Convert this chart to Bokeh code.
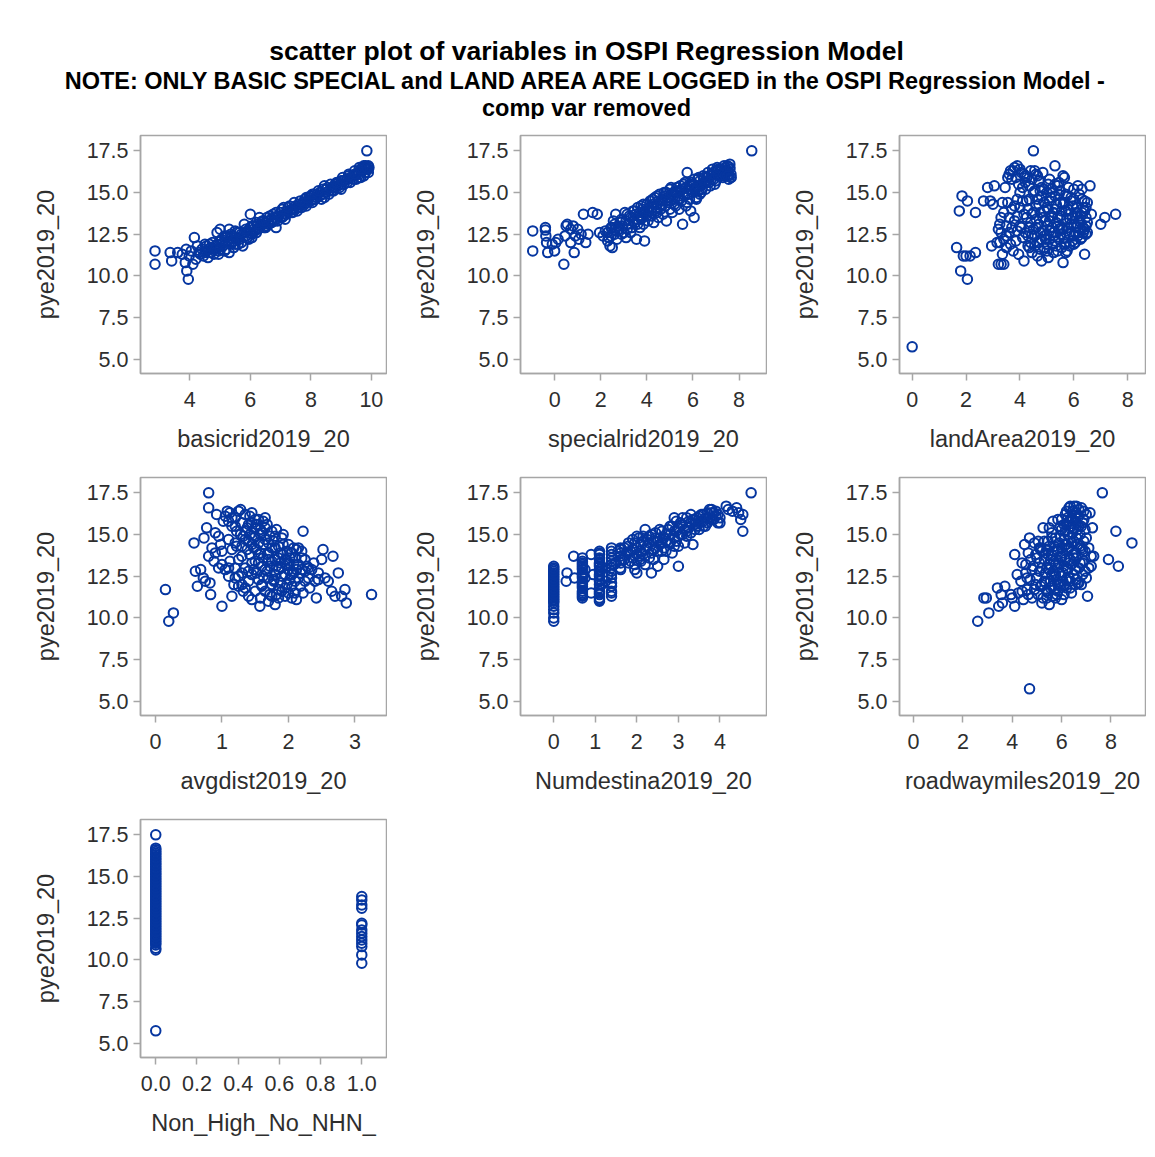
from bokeh.plotting import figure
from bokeh.layouts import column, row
from bokeh.models import Range1d, FixedTicker, NumeralTickFormatter
from bokeh.core.properties import value
from bokeh.embed import file_html
from bokeh.resources import INLINE

# ---------------- data ----------------
y_label = "pye2019_20"
y_ticks = [5.0, 7.5, 10.0, 12.5, 15.0, 17.5]

basic_x = [2.85, 2.85, 3.35, 3.4, 3.6, 3.75, 3.85, 3.88, 3.9, 3.95, 3.98, 4.05, 4.1, 4.15, 4.2, 4.25, 4.3, 4.4, 4.45, 4.5,
           4.55, 4.6, 4.7, 4.75, 4.8, 4.85, 4.9, 4.95, 5.0, 5.05, 5.1, 5.15, 5.2, 5.25, 5.3, 5.3, 5.35, 5.4, 5.45, 5.5,
           5.55, 5.6, 5.65, 5.7, 5.75, 5.8, 5.85, 5.9, 5.95, 6.0, 6.0, 6.05, 6.1, 6.15, 6.2, 6.25, 6.3, 6.35, 6.4, 6.45,
           6.5, 6.55, 6.6, 6.7, 6.75, 6.8, 6.85, 6.9, 7.0, 7.05, 7.1, 7.15, 7.2, 7.3, 7.35, 7.4, 7.5, 7.55, 7.6, 7.7,
           7.75, 7.8, 7.85, 7.9, 8.0, 8.05, 8.1, 8.15, 8.2, 8.3, 8.35, 8.4, 8.5, 8.55, 8.6, 8.7, 8.75, 8.8, 8.9, 9.0,
           9.0, 9.05, 9.1, 9.2, 9.25, 9.3, 9.4, 9.45, 9.5, 9.55, 9.6, 9.65, 9.7, 9.75, 9.8, 9.85, 9.85, 9.9, 9.9, 9.92]
basic_y = [11.5, 10.7, 11.4, 10.9, 11.4, 11.3, 10.8, 11.6, 10.3, 9.8, 11.2, 11.5, 10.7, 12.3, 11.0, 11.8, 11.4, 11.6, 11.2, 11.9,
           11.5, 11.1, 11.7, 12.0, 11.3, 11.8, 12.6, 11.5, 12.8, 12.2, 11.8, 12.4, 11.6, 12.1, 12.8, 11.4, 12.5, 12.0, 11.7, 12.3,
           12.6, 11.9, 12.2, 12.5, 11.8, 13.1, 12.4, 12.7, 12.2, 13.7, 12.9, 12.5, 13.0, 12.7, 13.2, 12.8, 13.5, 13.0, 13.3, 12.9,
           13.2, 13.5, 13.1, 13.4, 13.7, 13.3, 12.9, 13.6, 13.8, 13.5, 14.1, 13.7, 13.9, 14.2, 13.8, 14.0, 14.2, 13.9, 14.3, 14.1,
           14.4, 14.6, 14.2, 14.5, 14.8, 14.4, 14.9, 14.6, 14.7, 15.0, 14.6, 15.2, 15.0, 15.3, 14.9, 15.3, 15.1, 15.5, 15.4, 15.7,
           15.2, 15.9, 15.5, 15.8, 16.1, 15.6, 16.0, 16.3, 15.8, 16.2, 16.5, 15.9, 16.3, 16.0, 16.6, 17.5, 16.4, 16.2, 16.6, 16.5]
basic_more = [(4.35, 11.3), (4.5, 11.4), (4.6, 11.6), (4.65, 11.9), (4.7, 11.4), (4.8, 11.6), (4.9, 11.9), (5.0, 11.6),
              (5.0, 12.1), (5.1, 12.0), (5.15, 11.5), (5.2, 12.3), (5.3, 12.0), (5.4, 12.4), (5.5, 11.9), (5.5, 12.7),
              (5.6, 12.3), (5.7, 12.0), (5.8, 12.6), (5.9, 12.3), (6.0, 12.6), (6.1, 12.8), (6.2, 12.6), (6.3, 12.9),
              (6.4, 13.1), (6.5, 12.9), (6.6, 13.3), (6.7, 13.2), (6.8, 13.5), (6.9, 13.3), (7.0, 13.5), (7.1, 13.6),
              (7.2, 13.7), (7.3, 13.9), (7.4, 13.8), (7.5, 14.0), (7.6, 14.1), (7.7, 14.3), (7.8, 14.3), (7.9, 14.4),
              (8.0, 14.5), (8.1, 14.6), (8.2, 14.9), (8.3, 14.8), (8.4, 14.9), (8.5, 15.2), (8.6, 15.1), (8.7, 15.1),
              (8.8, 15.3), (8.9, 15.6), (9.0, 15.5), (9.1, 15.7), (9.2, 15.6), (9.3, 15.9), (9.4, 15.8), (9.5, 16.1),
              (9.6, 16.1), (9.7, 16.5), (9.8, 16.2), (9.9, 16.4), (9.75, 16.6), (9.6, 15.9), (7.15, 13.4), (6.05, 12.3),
              (5.55, 12.2), (4.95, 11.3), (6.55, 13.0), (7.95, 14.7), (8.45, 14.7), (8.95, 15.3),
              (4.55, 11.8), (4.85, 11.6), (5.05, 11.9), (5.25, 12.4), (5.45, 12.1), (5.65, 12.6), (5.85, 12.8),
              (6.05, 13.0), (6.25, 13.1), (6.45, 13.3), (6.65, 13.6), (6.85, 13.8), (7.05, 14.0), (7.25, 14.1),
              (7.45, 14.4), (7.65, 14.5), (7.85, 14.7), (8.05, 14.9), (8.25, 15.1), (8.45, 15.4), (8.65, 15.5),
              (8.85, 15.6), (9.05, 15.7), (9.25, 16.0), (9.45, 16.1), (9.65, 16.4), (9.85, 16.5)]

special_x = [-0.95, -0.95, -0.4, -0.4, -0.38, -0.35, -0.3, -0.1, 0.0, 0.05, 0.15, 0.4, 0.45, 0.5, 0.55, 0.7, 0.7, 0.8, 0.85, 0.9,
             1.0, 1.05, 1.15, 1.25, 1.35, 1.45, 1.65, 1.85, 1.95, 2.1, 2.2, 2.3, 2.4, 2.45, 2.5, 2.55, 2.6, 2.65, 2.7, 2.75,
             2.8, 2.9, 3.0, 3.05, 3.1, 3.2, 3.3, 3.35, 3.45, 3.5, 3.55, 3.6, 3.65, 3.7, 3.75, 3.8, 3.85, 3.9, 3.95, 4.0,
             4.05, 4.1, 4.15, 4.2, 4.25, 4.3, 4.35, 4.4, 4.45, 4.5, 4.55, 4.6, 4.65, 4.7, 4.75, 4.8, 4.85, 4.9, 5.0, 5.0,
             5.05, 5.1, 5.15, 5.2, 5.3, 5.35, 5.4, 5.45, 5.5, 5.55, 5.6, 5.65, 5.7, 5.75, 5.8, 5.85, 5.9, 5.95, 6.0, 6.05,
             6.1, 6.15, 6.2, 6.25, 6.3, 6.4, 6.5, 6.55, 6.6, 6.7, 6.75, 6.8, 6.9, 7.0, 7.05, 7.1, 7.2, 7.25, 7.3, 7.4,
             7.45, 7.5, 7.55, 7.6, 7.65, 8.55]
special_y = [12.7, 11.5, 12.9, 12.75, 12.4, 12.0, 11.4, 11.9, 11.5, 12.0, 12.2, 10.7, 12.4, 13.0, 13.1, 12.8, 12.0, 13.0, 11.4, 12.4,
             12.8, 12.2, 12.5, 13.7, 12.0, 12.5, 13.8, 13.7, 12.6, 12.4, 12.7, 12.1, 11.8, 12.9, 11.7, 13.3, 12.5, 13.7, 12.2, 13.0,
             12.8, 13.4, 12.6, 13.8, 12.3, 13.1, 13.5, 12.9, 13.9, 13.2, 12.2, 14.1, 13.6, 12.9, 13.4, 14.0, 13.1, 12.1, 13.7, 14.3,
             13.3, 13.9, 14.5, 13.6, 14.1, 13.2, 14.7, 13.9, 14.3, 13.5, 14.9, 14.0, 14.5, 13.7, 15.0, 14.2, 13.3, 14.7, 15.2, 14.0,
             14.5, 13.8, 15.0, 14.3, 15.3, 14.6, 14.0, 15.1, 14.5, 13.1, 15.5, 14.8, 14.2, 16.2, 15.2, 14.6, 13.9, 15.6, 15.0, 13.5,
             15.3, 14.7, 15.8, 15.1, 14.9, 15.5, 15.9, 15.2, 15.6, 16.0, 15.4, 15.8, 16.2, 15.7, 16.1, 16.4, 16.0, 16.3, 15.9, 16.5,
             16.2, 16.6, 16.0, 16.4, 15.9, 17.5]
special_more = [(2.3, 12.6), (2.5, 12.9), (2.6, 13.1), (2.7, 12.7), (2.85, 13.2), (2.95, 13.0), (3.1, 13.3), (3.15, 12.8),
                (3.25, 13.6), (3.4, 13.3), (3.5, 13.7), (3.6, 13.1), (3.7, 13.8), (3.8, 13.5), (3.9, 13.9), (4.0, 13.6),
                (4.1, 14.1), (4.2, 13.9), (4.3, 14.3), (4.4, 14.1), (4.5, 14.5), (4.6, 14.3), (4.7, 14.6), (4.8, 14.8),
                (4.9, 14.4), (5.0, 14.7), (5.1, 14.9), (5.2, 14.6), (5.3, 15.0), (5.4, 14.8), (5.5, 15.2), (5.6, 14.9),
                (5.7, 15.3), (5.8, 14.9), (5.9, 15.4), (6.0, 15.5), (6.1, 15.1), (6.2, 15.4), (6.3, 15.7), (6.4, 15.2),
                (6.5, 15.6), (6.6, 15.9), (6.7, 15.6), (6.8, 16.1), (6.9, 15.8), (7.0, 16.3), (7.1, 16.0), (7.2, 16.4),
                (7.3, 16.2), (7.4, 16.0), (7.5, 16.3), (7.6, 16.7), (7.65, 16.1), (7.55, 15.8), (3.3, 12.6), (4.45, 13.8),
                (5.25, 14.2), (6.15, 14.6), (2.35, 12.3), (3.75, 14.2),
                (2.45, 12.4), (2.65, 12.9), (2.9, 12.5), (3.15, 13.7), (3.4, 13.9), (3.6, 13.4), (3.85, 14.3), (4.05, 14.0),
                (4.25, 14.6), (4.45, 14.8), (4.65, 14.2), (4.85, 15.0), (5.05, 15.3), (5.25, 15.1), (5.45, 15.4),
                (5.65, 15.6), (5.85, 15.5), (6.05, 15.8), (6.25, 15.9), (6.45, 16.0), (6.65, 16.2), (6.85, 16.4),
                (7.05, 16.5), (7.35, 16.6), (7.6, 16.5), (7.65, 15.9), (7.5, 16.0), (6.95, 15.5), (6.35, 15.0), (5.75, 14.4)]

land_x = [0.0, 1.65, 1.75, 1.8, 1.85, 1.9, 2.0, 2.05, 2.05, 2.15, 2.35, 2.35, 2.65, 2.8, 2.9, 2.95, 3.0, 3.05, 3.15, 3.2,
          3.2, 3.25, 3.3, 3.35, 3.35, 3.4, 3.4, 3.45, 3.5, 3.5, 3.55, 3.6, 3.65, 3.7, 3.75, 3.8, 3.8, 3.85, 3.9, 3.9,
          3.95, 4.0, 4.0, 4.05, 4.1, 4.15, 4.15, 4.2, 4.25, 4.3, 4.35, 4.35, 4.4, 4.45, 4.5, 4.5, 4.55, 4.55, 4.6, 4.6,
          4.65, 4.7, 4.7, 4.75, 4.8, 4.8, 4.85, 4.9, 4.9, 4.95, 5.0, 5.0, 5.05, 5.05, 5.1, 5.1, 5.15, 5.2, 5.2, 5.25,
          5.3, 5.3, 5.35, 5.4, 5.4, 5.45, 5.5, 5.5, 5.55, 5.6, 5.6, 5.65, 5.65, 5.7, 5.75, 5.75, 5.8, 5.85, 5.9, 5.95,
          6.0, 6.0, 6.05, 6.1, 6.15, 6.2, 6.25, 6.3, 6.3, 6.35, 6.4, 6.4, 6.45, 6.5, 6.6, 6.65, 7.0, 7.15, 7.55]
land_y = [5.75, 11.7, 13.9, 10.3, 14.8, 11.2, 11.2, 14.5, 9.8, 11.2, 11.4, 13.8, 14.5, 15.3, 14.5, 11.8, 14.3, 15.4, 12.0, 12.8,
          10.7, 13.1, 10.7, 11.3, 14.4, 10.7, 12.2, 15.3, 13.0, 11.7, 15.9, 12.6, 16.3, 14.0, 11.5, 16.5, 13.3, 12.1, 16.6, 14.6,
          11.3, 15.0, 13.0, 16.2, 12.3, 13.7, 10.9, 16.0, 14.5, 11.8, 15.4, 12.9, 16.3, 11.4, 17.5, 13.8, 15.1, 12.4, 16.1, 14.2,
          11.2, 13.1, 15.7, 12.6, 14.8, 10.9, 13.5, 11.7, 15.2, 12.2, 14.1, 13.0, 11.1, 15.5, 12.7, 14.5, 13.6, 11.9, 15.0, 12.4,
          16.6, 14.0, 13.2, 11.5, 15.4, 12.8, 14.4, 13.6, 11.7, 16.0, 10.8, 15.9, 12.3, 13.9, 11.5, 14.8, 12.9, 13.4, 14.5, 12.1,
          15.2, 13.1, 12.0, 14.1, 15.4, 12.6, 13.6, 14.6, 15.2, 12.9, 11.3, 13.9, 12.5, 14.4, 15.4, 13.7, 13.1, 13.5, 13.7]
land_more = [(4.5, 12.8), (4.6, 13.4), (4.7, 14.3), (4.8, 12.2), (4.9, 13.9), (5.0, 12.5), (5.0, 15.0), (5.1, 13.3),
             (5.15, 14.7), (5.2, 12.9), (5.25, 13.8), (5.3, 12.1), (5.35, 14.3), (5.4, 13.0), (5.45, 14.9), (5.5, 12.5),
             (5.55, 13.9), (5.6, 12.8), (5.65, 14.4), (5.7, 12.0), (5.75, 13.4), (5.8, 14.0), (5.85, 12.5), (5.9, 13.1),
             (5.95, 14.2), (6.0, 12.4), (6.05, 13.6), (6.1, 12.9), (6.2, 13.3), (6.25, 12.2), (6.35, 14.1), (6.4, 12.8),
             (6.45, 13.5), (4.4, 13.2), (4.3, 14.0), (4.2, 12.6), (4.1, 15.3), (4.0, 14.1), (3.9, 12.7), (3.8, 14.2),
             (3.7, 15.8), (3.6, 13.5), (3.5, 12.4), (3.4, 13.8), (3.3, 12.6), (3.6, 16.1), (3.75, 16.3), (4.0, 16.4),
             (4.2, 15.6), (4.45, 15.8), (4.65, 16.0), (4.85, 16.2), (5.45, 15.6), (5.8, 15.3), (6.1, 13.0), (6.3, 12.3),
             (6.5, 13.2), (6.45, 14.1), (5.0, 11.9), (4.75, 11.6), (5.25, 11.4), (4.35, 11.7), (5.7, 11.4), (6.0, 11.9),
             (4.25, 13.5), (4.3, 12.4), (4.35, 14.6), (4.4, 12.0), (4.45, 13.7), (4.5, 15.0), (4.55, 11.8), (4.6, 12.9),
             (4.65, 14.6), (4.7, 12.0), (4.75, 13.8), (4.8, 15.3), (4.85, 12.7), (4.9, 14.4), (4.95, 13.3), (5.0, 11.5),
             (5.05, 14.0), (5.1, 12.2), (5.15, 15.2), (5.2, 13.6), (5.25, 12.6), (5.3, 14.8), (5.35, 11.8), (5.4, 13.5),
             (5.45, 12.2), (5.5, 15.1), (5.55, 12.9), (5.6, 14.3), (5.65, 11.9), (5.7, 14.9), (5.75, 12.7), (5.8, 13.7),
             (5.85, 11.8), (5.9, 14.7), (5.95, 13.5), (6.0, 14.6), (6.05, 12.6), (6.1, 13.8), (6.15, 12.4), (6.2, 14.9),
             (6.25, 13.2), (6.3, 13.8), (6.35, 12.6), (6.4, 14.5), (6.45, 13.0), (6.5, 12.6), (3.9, 13.6), (3.95, 15.5),
             (4.05, 12.9), (4.1, 14.5), (4.15, 16.1), (4.25, 15.9), (3.85, 15.9), (3.7, 12.9), (3.55, 14.4), (3.65, 11.9),
             (3.3, 13.5), (3.25, 12.0), (4.55, 16.3), (4.75, 15.1), (5.1, 15.8), (5.3, 15.5), (4.45, 12.5), (4.9, 12.4)]

dist_x = [0.15, 0.2, 0.27, 0.58, 0.6, 0.63, 0.68, 0.72, 0.73, 0.75, 0.77, 0.8, 0.8, 0.8, 0.82, 0.83, 0.85, 0.88, 0.9, 0.92,
          0.95, 1.0, 1.0, 1.02, 1.05, 1.08, 1.1, 1.12, 1.15, 1.15, 1.18, 1.2, 1.22, 1.25, 1.28, 1.3, 1.32, 1.35, 1.38, 1.4,
          1.42, 1.45, 1.45, 1.48, 1.5, 1.52, 1.55, 1.57, 1.58, 1.6, 1.62, 1.65, 1.68, 1.7, 1.72, 1.75, 1.78, 1.8, 1.8, 1.82,
          1.85, 1.88, 1.9, 1.92, 1.95, 1.98, 2.0, 2.02, 2.05, 2.08, 2.1, 2.12, 2.15, 2.18, 2.2, 2.22, 2.22, 2.25, 2.3, 2.35,
          2.4, 2.42, 2.45, 2.5, 2.52, 2.55, 2.6, 2.65, 2.67, 2.7, 2.75, 2.8, 2.85, 2.87, 3.25]
dist_y = [11.7, 9.8, 10.3, 14.5, 12.8, 11.9, 12.9, 12.4, 14.8, 12.2, 15.4, 17.5, 16.6, 13.7, 12.1, 11.4, 14.2, 13.4, 15.1, 16.2,
          13.0, 10.7, 14.0, 15.8, 12.9, 16.4, 14.7, 13.4, 11.3, 16.0, 12.0, 15.5, 14.3, 12.5, 16.5, 13.7, 11.6, 15.2, 14.1, 12.2,
          16.1, 13.3, 11.1, 14.8, 15.9, 12.7, 13.8, 10.7, 15.3, 11.9, 14.4, 12.9, 15.6, 13.5, 11.4, 14.2, 12.3, 10.8, 14.9, 13.1,
          11.7, 13.9, 12.5, 15.0, 11.3, 14.0, 12.9, 13.6, 11.9, 14.2, 12.2, 11.1, 13.2, 12.7, 14.0, 15.2, 11.5, 13.5, 12.4, 12.9,
          12.2, 11.2, 12.7, 13.5, 14.1, 12.4, 12.2, 11.6, 13.7, 11.3, 12.7, 11.3, 11.7, 10.9, 11.4]
dist_more = [(1.05, 16.1), (1.1, 15.8), (1.12, 16.3), (1.15, 15.5), (1.2, 16.0), (1.22, 15.2), (1.25, 16.4), (1.3, 15.7),
             (1.32, 14.9), (1.35, 16.2), (1.38, 15.4), (1.4, 14.6), (1.42, 15.0), (1.45, 15.7), (1.48, 14.2), (1.5, 14.9),
             (1.5, 13.4), (1.52, 15.6), (1.55, 14.5), (1.55, 12.3), (1.58, 13.9), (1.6, 15.1), (1.6, 13.1), (1.62, 12.5),
             (1.65, 14.7), (1.65, 11.6), (1.68, 13.8), (1.7, 14.5), (1.7, 12.4), (1.72, 13.1), (1.75, 15.2), (1.75, 12.0),
             (1.78, 14.6), (1.8, 13.5), (1.8, 12.6), (1.82, 11.4), (1.85, 14.3), (1.85, 12.9), (1.88, 13.3), (1.9, 14.8),
             (1.9, 11.6), (1.92, 13.8), (1.95, 12.6), (1.98, 13.2), (2.0, 14.4), (2.0, 11.5), (2.02, 12.3), (2.05, 13.9),
             (2.08, 12.7), (2.1, 13.6), (2.12, 12.9), (2.15, 14.2), (2.18, 11.9), (2.2, 12.9), (2.25, 12.2), (2.28, 13.1),
             (1.3, 12.0), (1.35, 11.8), (1.4, 11.3), (1.25, 11.9), (1.2, 13.0), (1.1, 13.0), (1.0, 13.2), (0.95, 14.9),
             (0.9, 13.9), (0.98, 14.4), (1.45, 12.6), (1.15, 14.1), (1.65, 16.0), (1.55, 15.9),
             (1.2, 14.5), (1.25, 13.5), (1.3, 14.3), (1.35, 13.0), (1.4, 15.6), (1.42, 13.8), (1.45, 14.4), (1.48, 12.9),
             (1.5, 15.4), (1.52, 14.1), (1.55, 13.3), (1.58, 15.0), (1.6, 12.0), (1.62, 13.6), (1.65, 15.4), (1.68, 12.8),
             (1.7, 13.9), (1.72, 14.9), (1.75, 13.4), (1.78, 12.2), (1.8, 14.2), (1.82, 15.3), (1.85, 13.6), (1.88, 12.1),
             (1.9, 13.0), (1.92, 14.4), (1.95, 13.5), (1.98, 12.0), (2.0, 13.3), (2.05, 12.6), (2.08, 13.2), (2.1, 11.5),
             (2.12, 14.1), (2.15, 12.4), (2.2, 13.6), (2.25, 12.8), (2.3, 13.0), (2.32, 11.8), (2.38, 13.3), (2.45, 12.3),
             (1.58, 11.2), (1.7, 11.0), (1.75, 11.3), (1.85, 11.2), (1.95, 11.8), (2.05, 11.2), (1.4, 12.8), (1.3, 12.7),
             (1.2, 12.4), (1.1, 12.5), (1.5, 11.6), (1.35, 14.7), (1.28, 15.0), (1.45, 16.3), (1.62, 15.8)]

dest_x = [0.0, 0.0, 0.0, 0.0, 0.0, 0.0, 0.0, 0.0, 0.0, 0.0, 0.0, 0.0, 0.0, 0.0, 0.0, 0.3, 0.32, 0.48, 0.5,
          0.69, 0.69, 0.69, 0.69, 0.69, 0.69, 0.69, 0.69, 0.69, 0.69, 0.69, 0.9, 0.9, 0.95,
          1.1, 1.1, 1.1, 1.1, 1.1, 1.1, 1.1, 1.1, 1.1, 1.1, 1.1, 1.1, 1.25, 1.25,
          1.39, 1.39, 1.39, 1.39, 1.39, 1.39, 1.39, 1.39, 1.39,
          1.6, 1.6, 1.61, 1.7, 1.79, 1.79, 1.8, 1.85, 1.9, 1.95, 1.95, 2.0, 2.0, 2.05, 2.08, 2.1, 2.15, 2.2, 2.2, 2.25,
          2.3, 2.35, 2.4, 2.45, 2.5, 2.5, 2.55, 2.6, 2.65, 2.7, 2.75, 2.8, 2.85, 2.9, 2.9, 2.95, 3.0, 3.0, 3.05, 3.1,
          3.15, 3.2, 3.25, 3.3, 3.35, 3.4, 3.45, 3.5, 3.55, 3.6, 3.65, 3.7, 3.75, 3.8, 3.85, 3.9, 3.95, 4.15, 4.2, 4.3,
          4.4, 4.45, 4.5, 4.55, 4.55, 4.75]
dest_y = [9.8, 10.3, 10.7, 10.9, 11.1, 11.3, 11.5, 11.7, 11.9, 12.1, 12.3, 12.5, 12.7, 12.9, 13.1, 12.2, 12.7, 13.7, 12.4,
          11.2, 11.4, 11.6, 11.9, 12.1, 12.4, 12.6, 12.9, 13.1, 13.3, 13.6, 11.5, 13.8, 12.6,
          11.0, 11.2, 11.5, 11.8, 12.0, 12.3, 12.6, 12.9, 13.2, 13.5, 13.8, 14.0, 12.2, 13.0,
          11.3, 11.6, 11.9, 12.4, 12.8, 13.2, 13.6, 14.0, 14.2,
          13.0, 13.7, 14.1, 13.5, 13.9, 14.3, 13.3, 14.0, 13.6, 12.9, 14.5, 12.7, 14.2, 14.8, 13.5, 14.0, 14.6, 13.2, 15.3, 14.3,
          14.9, 12.7, 14.1, 15.1, 13.1, 14.6, 15.3, 14.0, 13.5, 15.0, 14.5, 15.5, 13.9, 16.0, 14.8, 15.2, 13.1, 14.3, 15.7, 15.0,
          14.5, 16.0, 15.4, 16.2, 14.4, 15.6, 16.0, 15.3, 15.8, 16.2, 15.5, 16.0, 16.5, 15.9, 16.3, 16.1, 15.7, 16.7, 16.5, 16.4,
          16.6, 16.3, 15.9, 16.2, 15.2, 17.5]
dest_more = [(0.0, 10.0), (0.0, 10.5), (0.0, 11.0), (0.0, 11.2), (0.0, 11.4), (0.0, 11.6), (0.0, 11.8), (0.0, 12.0),
             (0.0, 12.2), (0.0, 12.4), (0.0, 12.6), (0.0, 12.8), (0.0, 13.0),
             (0.69, 11.3), (0.69, 11.5), (0.69, 11.8), (0.69, 12.0), (0.69, 12.2), (0.69, 12.5), (0.69, 12.7),
             (0.69, 13.0), (0.69, 13.2), (0.69, 13.4),
             (1.1, 11.1), (1.1, 11.4), (1.1, 11.6), (1.1, 12.2), (1.1, 12.5), (1.1, 12.8), (1.1, 13.1), (1.1, 13.3),
             (1.1, 13.6), (1.1, 13.9),
             (1.39, 11.5), (1.39, 12.1), (1.39, 12.6), (1.39, 13.0), (1.39, 13.4), (1.39, 13.8),
             (1.61, 12.9), (1.61, 13.3), (1.61, 13.9), (1.61, 14.2),
             (1.9, 14.1), (2.0, 13.8), (2.1, 14.4), (2.2, 14.1), (2.3, 14.5), (2.4, 14.6), (2.45, 14.2), (2.55, 14.8),
             (2.6, 14.5), (2.7, 14.6), (2.8, 15.0), (2.9, 15.2), (3.0, 15.4), (3.1, 15.6), (3.2, 15.2), (3.3, 15.7),
             (3.4, 15.9), (3.5, 16.1), (3.6, 15.8), (3.7, 16.3), (3.8, 16.3), (1.75, 13.9), (2.15, 13.8), (2.35, 13.9),
             (2.65, 14.8), (2.95, 14.6),
             (1.5, 13.3), (1.55, 14.0), (1.65, 13.5), (1.7, 14.2), (1.8, 14.5), (1.85, 13.4), (1.9, 14.7), (1.95, 13.2),
             (2.0, 14.9), (2.05, 13.7), (2.1, 13.4), (2.15, 14.9), (2.2, 13.7), (2.25, 14.7), (2.3, 13.6), (2.35, 15.0),
             (2.4, 13.5), (2.45, 14.8), (2.5, 14.0), (2.55, 14.4), (2.6, 15.2), (2.65, 14.2), (2.7, 14.0), (2.75, 15.3),
             (2.8, 14.5), (2.85, 15.5), (2.9, 14.3), (2.95, 15.8), (3.0, 14.9), (3.05, 15.0), (3.1, 16.0), (3.15, 15.3),
             (3.2, 14.9), (3.25, 15.8), (3.3, 15.1), (3.35, 15.9), (3.4, 15.3), (3.45, 15.5), (3.5, 15.7), (3.55, 16.2),
             (3.6, 15.5), (3.65, 16.0), (3.7, 15.7), (3.75, 16.0), (3.8, 16.5), (3.85, 15.9), (3.9, 16.4), (3.95, 16.2),
             (4.0, 15.7), (4.0, 16.0), (0.75, 12.4), (0.75, 12.9), (1.15, 12.0), (1.15, 13.0), (1.3, 12.5), (1.45, 13.2)]

road_x = [2.6, 2.85, 2.95, 3.05, 3.4, 3.45, 3.55, 3.6, 3.7, 3.95, 4.0, 4.1, 4.1, 4.2, 4.25, 4.35, 4.4, 4.45, 4.5, 4.55,
          4.6, 4.65, 4.7, 4.7, 4.72, 4.8, 4.85, 4.9, 4.95, 5.0, 5.05, 5.1, 5.15, 5.2, 5.2, 5.25, 5.3, 5.35, 5.4, 5.45,
          5.5, 5.5, 5.55, 5.6, 5.6, 5.65, 5.7, 5.7, 5.75, 5.8, 5.85, 5.85, 5.9, 5.95, 6.0, 6.0, 6.05, 6.1, 6.1, 6.15,
          6.2, 6.2, 6.25, 6.3, 6.3, 6.35, 6.4, 6.4, 6.45, 6.5, 6.5, 6.55, 6.6, 6.6, 6.65, 6.7, 6.75, 6.8, 6.8, 6.85,
          6.9, 6.95, 7.0, 7.0, 7.05, 7.1, 7.15, 7.2, 7.25, 7.3, 7.65, 7.9, 8.2, 8.3, 8.85]
road_y = [9.8, 11.2, 11.2, 10.3, 11.8, 10.7, 11.4, 10.9, 11.9, 11.4, 11.2, 13.8, 10.7, 12.6, 11.5, 12.2, 13.3, 11.1, 14.4, 12.7,
          11.7, 13.9, 5.75, 14.8, 12.3, 11.2, 13.1, 14.5, 12.0, 13.6, 11.4, 12.8, 14.2, 10.9, 13.0, 15.4, 12.2, 13.9, 11.6, 14.6,
          10.8, 12.9, 13.5, 15.1, 11.9, 15.8, 12.5, 14.3, 13.2, 11.4, 15.9, 14.0, 12.7, 13.6, 11.1, 15.3, 12.2, 14.7, 13.1, 16.2,
          11.8, 15.6, 12.9, 16.6, 14.2, 13.5, 11.5, 16.0, 15.1, 16.7, 12.6, 13.9, 14.8, 16.3, 12.1, 15.5, 13.3, 16.6, 12.0, 14.1,
          15.9, 12.8, 16.2, 14.8, 11.3, 13.0, 16.3, 13.7, 15.4, 13.7, 17.5, 13.5, 15.2, 13.1, 14.5]
road_more = [(5.0, 12.4), (5.1, 13.3), (5.2, 12.0), (5.3, 13.5), (5.35, 12.7), (5.4, 14.1), (5.5, 13.2), (5.55, 12.2),
             (5.6, 13.8), (5.65, 12.8), (5.7, 13.4), (5.75, 14.8), (5.8, 12.3), (5.85, 13.0), (5.9, 14.5), (5.95, 12.0),
             (6.0, 13.7), (6.0, 14.2), (6.05, 12.7), (6.1, 15.6), (6.15, 13.5), (6.2, 14.4), (6.25, 15.0), (6.3, 12.4),
             (6.3, 15.8), (6.35, 14.8), (6.4, 13.2), (6.4, 14.5), (6.45, 16.4), (6.5, 13.6), (6.5, 15.4), (6.55, 12.9),
             (6.6, 15.7), (6.6, 12.3), (6.65, 14.4), (6.7, 16.1), (6.7, 13.0), (6.75, 15.0), (6.8, 14.2), (6.85, 12.6),
             (6.9, 13.4), (6.9, 16.4), (6.95, 15.3), (7.0, 12.4), (5.45, 11.5), (5.25, 11.2), (5.75, 11.2), (6.1, 11.4),
             (4.9, 11.7), (4.75, 13.5), (4.6, 12.4), (5.05, 14.6), (4.4, 11.6), (4.55, 13.2), (6.2, 16.4), (6.35, 16.7),
             (6.6, 16.7), (6.85, 15.7), (7.2, 13.1), (7.1, 14.2),
             (5.3, 14.6), (5.35, 12.1), (5.4, 13.0), (5.45, 13.8), (5.5, 14.3), (5.55, 11.8), (5.6, 12.6), (5.65, 14.0),
             (5.7, 11.7), (5.75, 12.6), (5.8, 14.1), (5.85, 12.0), (5.9, 13.3), (5.95, 14.9), (6.0, 12.5), (6.05, 13.9),
             (6.1, 12.0), (6.15, 14.4), (6.2, 13.0), (6.25, 14.1), (6.3, 13.3), (6.35, 12.2), (6.4, 15.5), (6.45, 13.8),
             (6.5, 14.6), (6.55, 15.8), (6.6, 13.6), (6.65, 15.3), (6.7, 12.1), (6.75, 14.3), (6.8, 15.5), (6.85, 13.3),
             (6.9, 14.6), (6.95, 14.0), (6.2, 12.3), (6.0, 15.9), (6.25, 16.0), (6.45, 15.9), (6.55, 16.1), (6.7, 16.5),
             (6.15, 15.2), (5.95, 15.5), (5.6, 14.8), (5.5, 15.4), (5.2, 14.0), (5.1, 14.2), (4.95, 13.8), (4.8, 12.9),
             (4.65, 11.4), (5.15, 11.9), (5.4, 11.2), (5.65, 11.3), (5.85, 11.6), (6.1, 11.9), (6.35, 11.8), (6.55, 12.0)]

nhn_x = [0.0, 0.0, 0.0, 0.0, 0.0, 0.0, 0.0, 0.0, 0.0, 0.0, 0.0, 0.0, 0.0, 0.0, 0.0, 0.0, 0.0, 0.0, 0.0, 0.0,
         0.0, 0.0, 0.0, 0.0, 0.0, 0.0, 0.0, 0.0, 0.0, 0.0, 0.0, 0.0, 0.0, 0.0,
         0.0, 0.0, 0.0, 0.0, 0.0, 0.0, 0.0, 0.0, 0.0, 0.0, 0.0, 0.0, 0.0, 0.0, 0.0, 0.0, 0.0, 0.0, 0.0, 0.0,
         0.0, 0.0, 0.0, 0.0, 0.0, 0.0, 0.0, 0.0, 0.0,
         1.0, 1.0, 1.0, 1.0, 1.0, 1.0, 1.0, 1.0, 1.0, 1.0, 1.0, 1.0, 1.0, 1.0]
nhn_y = [5.75, 10.6, 10.9, 11.1, 11.3, 11.5, 11.6, 11.8, 12.0, 12.2, 12.4, 12.6, 12.8, 13.0, 13.2, 13.4, 13.6, 13.8, 14.0, 14.2,
         14.4, 14.6, 14.8, 15.0, 15.2, 15.4, 15.6, 15.8, 16.0, 16.2, 16.4, 16.6, 16.7, 17.5,
         10.7, 11.0, 11.2, 11.4, 11.7, 11.9, 12.1, 12.3, 12.5, 12.7, 12.9, 13.1, 13.3, 13.5, 13.7, 13.9, 14.1, 14.3, 14.5, 14.7,
         14.9, 15.1, 15.3, 15.5, 15.7, 15.9, 16.1, 16.3, 16.5,
         9.8, 10.3, 10.8, 11.0, 11.2, 11.4, 11.6, 11.8, 12.1, 12.2, 13.1, 13.3, 13.6, 13.8]

title_lines = ["scatter plot of variables in OSPI Regression Model",
               "NOTE: ONLY BASIC SPECIAL and LAND AREA ARE LOGGED in the OSPI Regression Model -",
               "comp var removed"]


def merged(xs, ys, more):
    mx, my = zip(*more) if more else ((), ())
    return list(xs) + list(mx), list(ys) + list(my)


bx, by = merged(basic_x, basic_y, basic_more)
sx, sy = merged(special_x, special_y, special_more)
lx, ly = merged(land_x, land_y, land_more)
dx, dy = merged(dist_x, dist_y, dist_more)
nx, ny = merged(dest_x, dest_y, dest_more)
rx, ry = merged(road_x, road_y, road_more)

# (label, xs, ys, x ticks, x range, x format, left border, width)
panels = [
    ("basicrid2019_20", bx, by, [4, 6, 8, 10], (2.37, 10.5), "0", 140, 387),
    ("specialrid2019_20", sx, sy, [0, 2, 4, 6, 8], (-1.48, 9.19), "0", 133, 380),
    ("landArea2019_20", lx, ly, [0, 2, 4, 6, 8], (-0.47, 8.66), "0", 132, 379),
    ("avgdist2019_20", dx, dy, [0, 1, 2, 3], (-0.225, 3.475), "0", 140, 387),
    ("Numdestina2019_20", nx, ny, [0, 1, 2, 3, 4], (-0.8, 5.12), "0", 133, 380),
    ("roadwaymiles2019_20", rx, ry, [0, 2, 4, 6, 8], (-0.57, 9.4), "0", 132, 379),
    ("Non_High_No_NHN_", nhn_x, nhn_y, [0.0, 0.2, 0.4, 0.6, 0.8, 1.0], (-0.074, 1.12), "0.0", 140, 387),
]

# ---------------- styling ----------------
FONT = "Liberation Sans"
BLUE = "#0636a0"
GRAY = "#a6a6a6"
TXT = "#2e2e2e"


def make_panel(xlabel, xs, ys, xticks, xr, fmt, left, width):
    p = figure(width=width, height=342, x_range=Range1d(*xr), y_range=Range1d(4.15, 18.42),
               output_backend="svg", toolbar_location=None,
               min_border_left=left, min_border_right=1, min_border_top=16, min_border_bottom=88)
    p.scatter(xs, ys, marker="circle", size=9.5, line_color=BLUE, fill_color=None, line_width=2)
    p.grid.visible = False
    p.outline_line_color = GRAY
    p.outline_line_width = 1.5
    p.xaxis.ticker = FixedTicker(ticks=xticks)
    p.yaxis.ticker = FixedTicker(ticks=y_ticks)
    p.yaxis.formatter = NumeralTickFormatter(format="0.0")
    p.xaxis.formatter = NumeralTickFormatter(format=fmt)
    p.xaxis.axis_label = xlabel
    p.yaxis.axis_label = y_label
    for ax in p.axis:
        ax.axis_line_color = GRAY
        ax.axis_line_width = 1.5
        ax.major_tick_line_color = GRAY
        ax.major_tick_line_width = 1.5
        ax.major_tick_out = 7
        ax.major_tick_in = 0
        ax.minor_tick_line_color = None
        ax.major_label_text_font = FONT
        ax.major_label_text_font_size = "21.5px"
        ax.major_label_text_color = TXT
        ax.axis_label_text_font = FONT
        ax.axis_label_text_font_size = "23.5px"
        ax.axis_label_text_font_style = "normal"
        ax.axis_label_text_color = TXT
    p.xaxis.major_label_standoff = 11
    p.xaxis.axis_label_standoff = 16
    p.yaxis.major_label_standoff = 5
    p.yaxis.axis_label_standoff = 25
    return p


figs = [make_panel(*pn) for pn in panels]

tf = figure(width=1146, height=119, x_range=Range1d(0, 1146), y_range=Range1d(0, 119),
            output_backend="svg", toolbar_location=None, min_border=0)
tf.axis.visible = False
tf.grid.visible = False
tf.outline_line_color = None
tf.text(x=[586], y=[69], text=[title_lines[0]], text_font=value(FONT), text_font_style="bold",
        text_font_size="26.5px", text_align="center", text_baseline="middle", text_color="#000000")
tf.text(x=[586, 586], y=[39, 12], text=title_lines[1:], text_font=value(FONT), text_font_style="bold",
        text_font_size="23.5px", text_align="center", text_baseline="middle", text_color="#000000")

layout = column(tf, row(figs[0], figs[1], figs[2]), row(figs[3], figs[4], figs[5]), row(figs[6]))

open("out.html", "w").write(file_html(layout, INLINE))
